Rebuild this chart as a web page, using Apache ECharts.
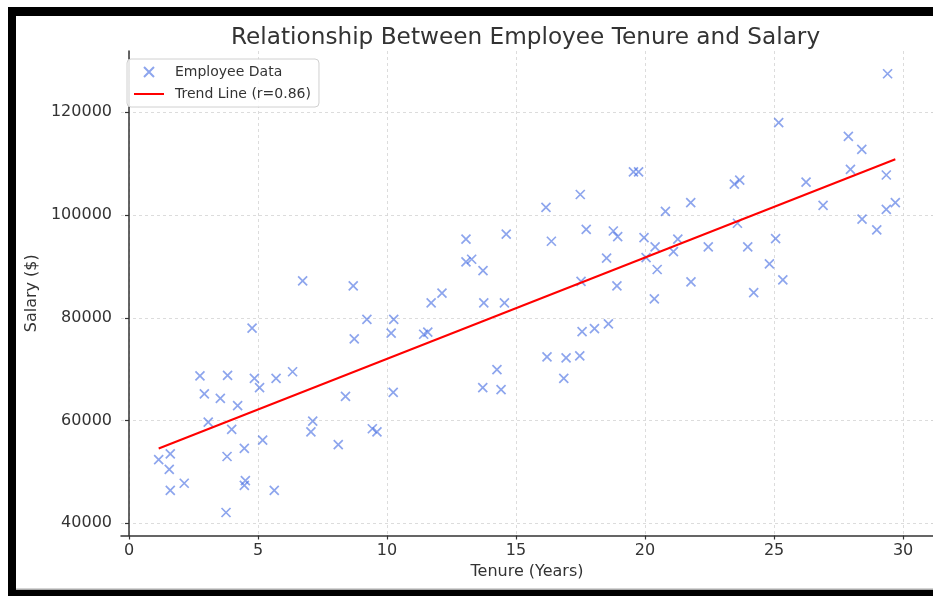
<!DOCTYPE html>
<html><head><meta charset="utf-8">
<script src="https://cdn.jsdelivr.net/npm/echarts@6/dist/echarts.min.js"></script>
<style>html,body{margin:0;padding:0;background:#fff}#c{width:933px;height:596px}</style>
</head><body><div id="c"></div>
<script>
const tenure = [1.15,1.60,1.56,1.60,2.14,2.75,2.92,3.07,3.54,3.80,3.82,3.76,3.98,4.21,4.47,4.47,4.51,4.77,4.86,5.06,5.18,5.63,5.70,6.34,6.73,7.05,7.12,8.11,8.39,8.69,8.73,9.22,9.43,9.61,10.16,10.26,10.24,11.42,11.58,11.71,12.13,13.06,13.06,13.28,13.72,13.75,13.71,14.26,14.42,14.55,14.62,16.16,16.20,16.37,16.85,16.94,17.47,17.49,17.52,17.56,17.72,18.04,18.51,18.58,18.77,18.94,18.91,19.55,19.75,19.96,20.04,20.36,20.39,20.47,20.79,21.10,21.27,21.77,21.78,22.45,23.46,23.67,23.58,23.98,24.21,24.82,25.06,25.18,25.34,26.24,26.90,27.88,27.96,28.40,28.41,28.98,29.35,29.35,29.40,29.70];
const salary = [52400,53500,50500,46400,47800,68700,65200,59700,64300,53000,68800,42100,58300,62900,54600,47400,48300,78000,68200,66400,56200,46400,68200,69500,87200,57800,59900,55300,64700,86200,75900,79700,58400,57800,77000,79700,65500,76800,77200,82900,84800,95300,90900,91400,89200,82900,66400,69900,66000,82900,96300,101500,72400,94900,68200,72200,72600,104000,87100,77300,97200,77900,91600,78800,96900,95800,86200,108400,108400,95600,91700,83700,93800,89400,100700,92900,95300,102400,87000,93800,106000,106800,98400,93800,84900,90500,95400,118000,87400,106400,101900,115300,108900,112800,99200,97100,107800,101100,127500,102400];
const trendTenure = [1.15, 29.70];
const trendSalary = [54560, 110870];
const xTicks = [0, 5, 10, 15, 20, 25, 30];
const yTicks = [40000, 60000, 80000, 100000, 120000];
const seriesNames = ['Employee Data', 'Trend Line (r=0.86)'];
const titleText = 'Relationship Between Employee Tenure and Salary';
const xName = 'Tenure (Years)';
const yName = 'Salary ($)';

const FONT = 'DejaVu Sans';
const scatterData = tenure.map((t, i) => [t, salary[i]]);
const trendData = trendTenure.map((t, i) => [t, trendSalary[i]]);

const chart = echarts.init(document.getElementById('c'), null, {renderer: 'canvas'});
const gridLine = {show: true, lineStyle: {color: '#d3d3d3', type: [3, 3], width: 0.8}};
chart.setOption({
  animation: false,
  backgroundColor: '#fff',
  title: {
    text: titleText, left: 231, top: 26, padding: 0,
    textStyle: {fontFamily: FONT, fontSize: 23.2, fontWeight: 'normal', color: '#333'}
  },
  legend: {
    orient: 'vertical', left: 127, top: 59,
    padding: [6, 8, 6, 7], itemGap: 8, itemWidth: 30, itemHeight: 10,
    backgroundColor: 'rgba(255,255,255,0.85)', borderColor: '#d0d0d0', borderWidth: 1, borderRadius: 4,
    textStyle: {fontFamily: FONT, fontSize: 14, color: '#333', lineHeight: 14, padding: [0, 0, 0, 6]},
    data: [
      {name: seriesNames[0]},
      {name: seriesNames[1], icon: 'path://M0,0H30V2H0Z'}
    ]
  },
  grid: {left: 121, right: 0, top: 51, bottom: 60.5, containLabel: false},
  xAxis: {
    type: 'value', min: -0.31, max: 31.16,
    name: xName, nameLocation: 'middle', nameGap: 26,
    nameTextStyle: {fontFamily: FONT, fontSize: 16, color: '#333'},
    axisLine: {show: true, lineStyle: {color: '#333', width: 1.5}},
    axisTick: {show: true, length: 4, inside: false, customValues: xTicks, lineStyle: {color: '#333', width: 1.2}},
    axisLabel: {customValues: xTicks, margin: 7, fontFamily: FONT, fontSize: 16, color: '#333'},
    splitLine: Object.assign({customValues: xTicks}, gridLine)
  },
  yAxis: {
    type: 'value', min: 37625, max: 131932,
    name: yName, nameLocation: 'middle', nameGap: 77,
    nameTextStyle: {fontFamily: FONT, fontSize: 16, color: '#333'},
    axisLine: {show: true, lineStyle: {color: '#333', width: 1.5}},
    axisTick: {show: true, length: 4, inside: false, customValues: yTicks, lineStyle: {color: '#333', width: 1.2}},
    axisLabel: {customValues: yTicks, margin: 9, fontFamily: FONT, fontSize: 16, color: '#333', formatter: v => String(v)},
    splitLine: Object.assign({customValues: yTicks}, gridLine)
  },
  series: [
    {
      name: seriesNames[0], type: 'scatter', data: scatterData, clip: false,
      symbol: 'path://M0,0L10,10M10,0L0,10', symbolSize: 9,
      itemStyle: {color: 'rgba(0,0,0,0)', borderColor: '#4169e1', borderWidth: 1.7, opacity: 0.6},
      emphasis: {disabled: true}, z: 3
    },
    {
      name: seriesNames[1], type: 'line', data: trendData, showSymbol: false, symbol: 'none',
      lineStyle: {color: '#ff0000', width: 2}, itemStyle: {color: '#ff0000'},
      emphasis: {disabled: true}, z: 4
    }
  ],
  graphic: [
    {type: 'rect', shape: {x: 8, y: 7, width: 925, height: 9}, style: {fill: '#000'}, z: 100},
    {type: 'rect', shape: {x: 8, y: 7, width: 8, height: 589}, style: {fill: '#000'}, z: 100},
    {type: 'rect', shape: {x: 16, y: 588.5, width: 917, height: 1.5}, style: {fill: '#aaa'}, z: 100},
    {type: 'rect', shape: {x: 8, y: 590, width: 925, height: 6}, style: {fill: '#000'}, z: 100}
  ]
});
</script>
</body></html>
